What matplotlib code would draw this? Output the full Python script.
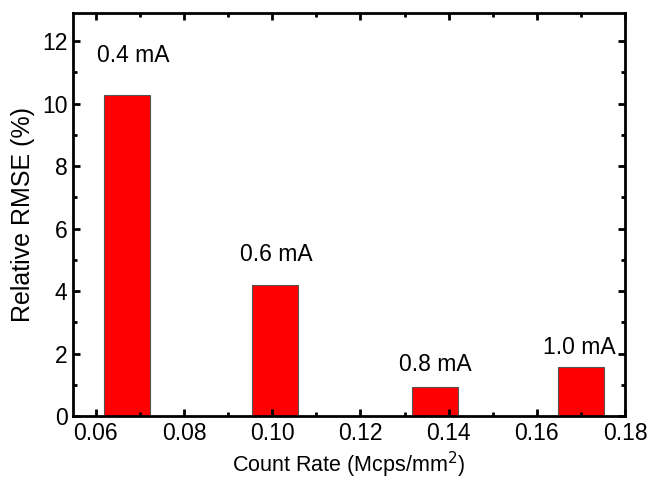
import matplotlib
matplotlib.use("Agg")
import matplotlib.pyplot as plt
from matplotlib.ticker import MultipleLocator

plt.rcParams['font.family'] = ['Liberation Sans', 'DejaVu Sans']

# data
count_rate = [0.067, 0.1007, 0.137, 0.170]
rmse = [10.27, 4.2, 0.94, 1.57]
currents = ["0.4 mA", "0.6 mA", "0.8 mA", "1.0 mA"]
label_x = [0.0684, 0.101, 0.1369, 0.1696]
label_y = [11.32, 4.97, 1.43, 2.0]

fig = plt.figure(figsize=(6.48, 4.83), dpi=100)
ax = fig.add_axes([73 / 648, 1 - 416 / 483, (625 - 73) / 648, (416 - 13) / 483])

ax.bar(count_rate, rmse, width=0.0104, color='#ff0000', edgecolor='#555555', linewidth=0.8)

for x, y, s in zip(label_x, label_y, currents):
    ax.text(x, y, s, ha='center', va='baseline', fontsize=16.5)

ax.set_xlim(0.0548, 0.18)
ax.set_ylim(0, 12.9)
ax.xaxis.set_major_locator(MultipleLocator(0.02))
ax.xaxis.set_minor_locator(MultipleLocator(0.01))
ax.yaxis.set_major_locator(MultipleLocator(2))
ax.yaxis.set_minor_locator(MultipleLocator(1))
ax.xaxis.set_major_formatter(plt.FuncFormatter(lambda v, p: f"{v:.2f}"))

ax.tick_params(which='both', direction='in', top=True, right=True, width=2, labelsize=16.5)
ax.tick_params(which='major', length=5, pad=4)
ax.tick_params(which='minor', length=3)
for sp in ax.spines.values():
    sp.set_linewidth(2)

ax.set_xlabel("Count Rate (Mcps/mm$^2$)", fontsize=15.5, labelpad=4)
ax.set_ylabel("Relative RMSE (%)", fontsize=18, labelpad=5)

fig.savefig("out.png", dpi=100)
